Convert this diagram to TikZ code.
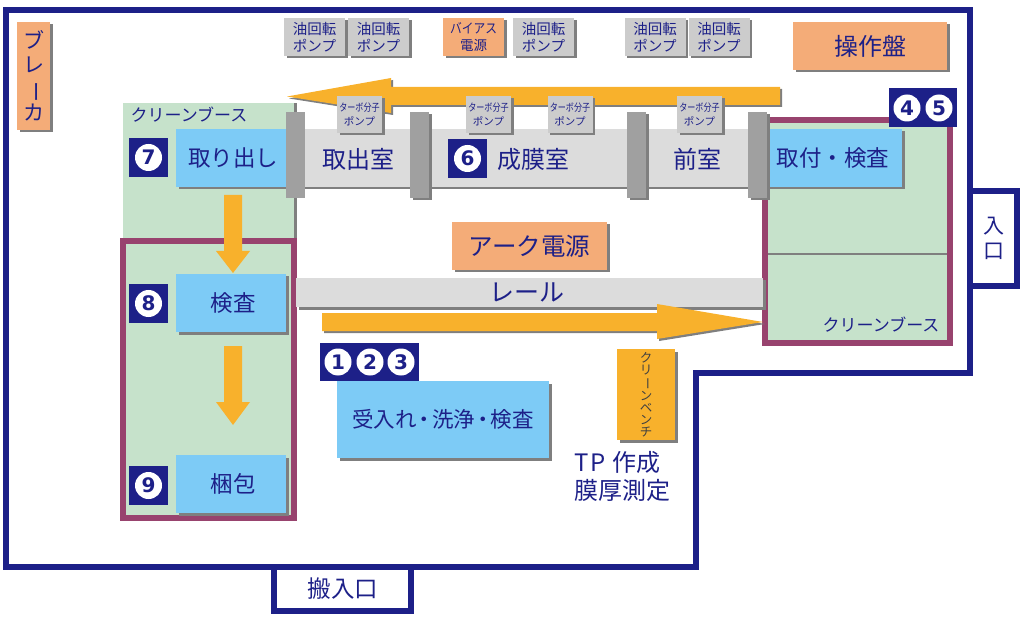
\documentclass[tikz,border=0pt]{standalone}
\usepackage{fontspec}
\usepackage{graphicx}
\usetikzlibrary{shadows}
\setmainfont{Noto Sans CJK JP}
\newfontfamily\numfont{DejaVu Sans}[BoldFont={DejaVu Sans Bold}]
\definecolor{colroom}{HTML}{1D2088}
\definecolor{colbooth}{HTML}{98436E}
\definecolor{colgreen}{HTML}{C6E2CB}
\definecolor{colblue}{HTML}{7DCBF6}
\definecolor{colorange}{HTML}{F4AC78}
\definecolor{colyellow}{HTML}{F8B12C}
\definecolor{colpump}{HTML}{CCCCCC}
\definecolor{colrail}{HTML}{DCDCDC}
\definecolor{colgate}{HTML}{A0A0A0}
\definecolor{colshade}{HTML}{7F7F7F}
\newcommand{\chobar}{\rotatebox[origin=c]{-90}{ー}}
\tikzset{
  shade box/.style={general shadow={fill=colshade, shadow xshift=2.5pt, shadow yshift=-2.5pt}},
  plain/.style={inner sep=0, outer sep=0, text=colroom},
  room/.style={draw=colroom, line width=6pt, miter limit=10},
  booth/.style={draw=colbooth, line width=6pt, fill=colgreen},
  step blue/.style={plain, shade box, fill=colblue, font=\fontsize{22.5}{26}\selectfont},
  label big/.style={plain, font=\fontsize{24}{28}\selectfont, align=center},
  oil pump/.style={plain, shade box, fill=colpump, minimum width=61pt, minimum height=38pt,
    align=center, font=\fontsize{14.5}{17.5}\selectfont},
  turbo pump/.style={plain, shade box, fill=colpump, minimum width=45pt, minimum height=37pt,
    align=center, font=\fontsize{10.5}{14}\selectfont},
  gate/.style={plain, fill=colgate, minimum width=19pt, minimum height=86pt},
  num box/.style={plain, fill=colroom},
  num disc/.style={circle, fill=white, inner sep=0, minimum size=27pt, text=colroom,
    font=\numfont\bfseries\fontsize{20}{20}\selectfont},
  flow/.style={fill=colyellow},
}

\begin{document}
\begin{tikzpicture}[x=1pt, y=-1pt]
  \useasboundingbox (0,0) rectangle (1024,617);

  % ---- room outline
  \draw[room] (970,191) -- (1017,191) -- (1017,286) -- (970,286);
  \draw[room] (274,567) -- (274,611) -- (411,611) -- (411,567);
  \draw[room] (6,10) -- (970,10) -- (970,373) -- (696,373) -- (696,567) -- (6,567) -- cycle;
  \node[plain, font=\fontsize{21}{25}\selectfont, align=center] (entry) at (994,238) {入\\口};
  \node[plain, font=\fontsize{23.5}{24}\selectfont] (carry) at (343,589) {搬入口};

  % ---- clean booths
  \fill[colshade] (125,103) rectangle (296.5,245);
  \fill[colgreen] (123,103) rectangle (294,245);
  \draw[booth] (123,241) rectangle (294,518);
  \draw[booth] (765,120) rectangle (950,343);
  \draw[colshade, line width=2pt] (768,254) -- (947,254);
  \node[plain, font=\fontsize{17}{17}\selectfont] (boothL) at (189,115) {クリーンブース};
  \node[plain, font=\fontsize{17}{17}\selectfont] (boothR) at (881,325) {クリーンブース};

  % ---- rail and chambers
  \node[plain, shade box, fill=colrail, minimum width=467pt, minimum height=29pt] (rail) at (529.5,292.5) {};
  \node[label big, font=\fontsize{25}{28}\selectfont] (railtxt) at (527,292) {レール};
  \node[plain, shade box, fill=colrail, minimum width=474pt, minimum height=58pt] (chamber) at (533,158) {};
  \node[label big] (exit) at (358.5,159) {取出室};
  \node[label big] (depo) at (533.5,159) {成膜室};
  \node[label big] (pre) at (697.5,159) {前室};

  % ---- work steps
  \node[step blue, minimum width=110pt, minimum height=58pt] (take) at (231,158) {\kern4pt 取り出し};
  \node[step blue, minimum width=110pt, minimum height=58pt] (check) at (231,303) {\kern4pt 検査};
  \node[step blue, minimum width=110pt, minimum height=58pt] (pack) at (231,484) {\kern4pt 梱包};
  \node[step blue, minimum width=134pt, minimum height=58pt] (mount) at (835,158) {取付・検査\kern4pt};
  \node[step blue, minimum width=212pt, minimum height=77pt, font=\fontsize{21.5}{26}\selectfont] (accept) at (443,419.5)
    {受入れ\kern-3pt・\kern-3pt 洗浄\kern-3pt・\kern-3pt 検査};

  % ---- gate valves
  \node[gate] (G1) at (295.5,155) {};
  \foreach \x/\n in {419.5/G2, 636.5/G3, 757.5/G4}
    \node[gate, shade box] (\n) at (\x,155) {};

  % ---- flow arrows
  \fill[flow, general shadow={fill=colshade, shadow xshift=2pt, shadow yshift=-2pt}]
    (780,87) -- (391,87) -- (391,78) -- (287,96.5) -- (391,113) -- (391,105) -- (780,105) -- cycle;
  \fill[flow, general shadow={fill=colshade, shadow xshift=2pt, shadow yshift=-2pt}]
    (322,313) -- (657,313) -- (657,304) -- (763,322) -- (657,339) -- (657,331) -- (322,331) -- cycle;
  \fill[flow] (224,195) -- (242,195) -- (242,251) -- (250,251) -- (233,273) -- (216,251) -- (224,251) -- cycle;
  \fill[flow] (224,346) -- (242,346) -- (242,402) -- (250,402) -- (233,425) -- (216,402) -- (224,402) -- cycle;

  % ---- pumps: one \foreach per kind
  \foreach \x/\n in {314.5/P1, 378.5/P2, 543.5/P3, 655/P4, 719/P5}
    \node[oil pump] (\n) at (\x,37) {油回転\\ポンプ};
  \foreach \x/\n in {359.5/T1, 488.5/T2, 570/T3, 699.5/T4}
    \node[turbo pump] (\n) at (\x,114.5) {\scalebox{.77}[1]{ターボ分子}\\ポンプ};

  % ---- power supplies and benches
  \node[oil pump, fill=colorange, font=\fontsize{13.5}{16.5}\selectfont] (bias) at (473.5,37) {\scalebox{.87}[1]{バイアス}\\電源};
  \node[plain, shade box, fill=colorange, minimum width=154pt, minimum height=48pt,
    font=\fontsize{24}{26}\selectfont] (panel) at (870,46) {操作盤};
  \node[plain, shade box, fill=colorange, minimum width=155pt, minimum height=48pt,
    font=\fontsize{24.5}{26}\selectfont] (arc) at (529.5,246) {アーク電源};
  \node[plain, shade box, fill=colorange, minimum width=33pt, minimum height=108pt, align=center,
    font=\fontsize{21}{24}\selectfont] (breaker) at (33.5,76) {ブ\\レ\\\chobar\\カ};
  \node[plain, shade box, fill=colyellow, minimum width=58pt, minimum height=91pt, align=center,
    text=black!75, font=\fontsize{12.5}{12}\selectfont] (bench) at (646,394.5) {ク\\リ\\\chobar\\ン\\ベ\\ン\\チ};
  \node[plain, font=\fontsize{24}{28}\selectfont, align=left, anchor=north west] (tp) at (574,451) {T\kern2pt P\kern7pt 作成\\膜厚測定};

  % ---- numbered tags
  \node[num box, minimum size=39pt] (N6) at (467.5,158.5) {};
  \node[num disc] (D6) at (N6) {6};
  \foreach \y/\m/\n in {157.5/7/N7, 303.5/8/N8, 485.5/9/N9} {
    \node[num box, minimum size=39pt] (\n) at (148.5,\y) {};
    \node[num disc] (D\m) at (\n) {\m};
  }
  \node[num box, minimum width=99pt, minimum height=38pt] (N123) at (369.5,362) {};
  \foreach \x/\m in {338/1, 370/2, 401/3}
    \node[num disc] (D\m) at (\x,362) {\m};
  \node[num box, minimum width=68pt, minimum height=39pt] (N45) at (923,107.5) {};
  \foreach \x/\m in {907/4, 939/5}
    \node[num disc] (D\m) at (\x,108) {\m};

\end{tikzpicture}
\end{document}
